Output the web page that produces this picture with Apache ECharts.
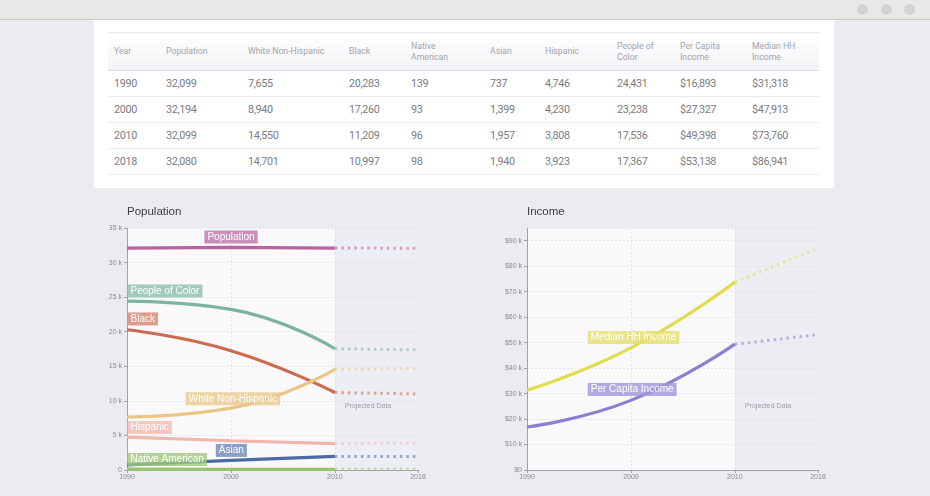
<!DOCTYPE html>
<html>
<head>
<meta charset="utf-8">
<script src="https://cdn.jsdelivr.net/npm/echarts/dist/echarts.min.js"></script>
<style>
  html, body { margin: 0; padding: 0; }
  body { width: 930px; height: 496px; background: #ebecf0; position: relative; overflow: hidden; font-family: Roboto, "Liberation Sans", sans-serif; }
  #bar { position: absolute; left: 0; top: 0; width: 930px; height: 19px; background: #e9e9e7; border-bottom: 1px solid #c9c9c6; }
  .dot { position: absolute; top: 4px; width: 11px; height: 11px; border-radius: 50%; background: #d4d4d3; }
  #panel { position: absolute; left: 94px; top: 20px; width: 740px; height: 168px; background: #fff; }
  table { position: absolute; left: 14px; top: 12px; width: 711px; border-collapse: collapse; table-layout: fixed; }
  th { height: 37px; text-align: left; vertical-align: middle; font-weight: normal; font-size: 8.7px; line-height: 11px; color: #a3a4ab; padding: 0 0 0 6px;
       background: linear-gradient(#ffffff, #f1f2f5); border-top: 1px solid #e9eaed; border-bottom: 1px solid #dcdde2; }
  td { height: 25px; font-size: 10.8px; color: #7b7c82; padding: 0 0 0 6px; border-bottom: 1px solid #ececef; letter-spacing: -0.35px; }
  #chart { position: absolute; left: 0; top: 190px; width: 930px; height: 306px; }
</style>
</head>
<body>
<div id="bar"><div class="dot" style="left:857px"></div><div class="dot" style="left:881px"></div><div class="dot" style="left:904px"></div></div>
<div id="panel"><table id="tbl"></table></div>
<div id="chart"></div>
<script>
// ---- data ----
const years = [1990, 2000, 2010, 2018];
const tableHeaders = ['Year', 'Population', 'White Non-Hispanic', 'Black', 'Native<br>American', 'Asian', 'Hispanic', 'People of<br>Color', 'Per Capita<br>Income', 'Median HH<br>Income'];
const population = [32099, 32194, 32099, 32080];
const whiteNonHispanic = [7655, 8940, 14550, 14701];
const black = [20283, 17260, 11209, 10997];
const nativeAmerican = [139, 93, 96, 98];
const asian = [737, 1399, 1957, 1940];
const hispanic = [4746, 4230, 3808, 3923];
const peopleOfColor = [24431, 23238, 17536, 17367];
const perCapitaIncome = [16893, 27327, 49398, 53138];
const medianHHIncome = [31318, 47913, 73760, 86941];
const popTicks = [0, 5000, 10000, 15000, 20000, 25000, 30000, 35000];
const incomeTicks = [0, 10000, 20000, 30000, 40000, 50000, 60000, 70000, 80000, 90000];
const projectedFrom = 2010;

// ---- table ----
const colWidths = [52, 82, 101, 62, 79, 55, 72, 63, 72, 73];
const fmt = v => v.toLocaleString('en-US');
let html = '<colgroup>' + colWidths.map(w => '<col style="width:' + w + 'px">').join('') + '</colgroup>';
html += '<tr>' + tableHeaders.map(h => '<th>' + h + '</th>').join('') + '</tr>';
years.forEach((y, i) => {
  const cells = [y, fmt(population[i]), fmt(whiteNonHispanic[i]), fmt(black[i]), fmt(nativeAmerican[i]), fmt(asian[i]),
    fmt(hispanic[i]), fmt(peopleOfColor[i]), '$' + fmt(perCapitaIncome[i]), '$' + fmt(medianHHIncome[i])];
  html += '<tr>' + cells.map(c => '<td>' + c + '</td>').join('') + '</tr>';
});
document.getElementById('tbl').innerHTML = html;

// ---- chart ----
const chart = echarts.init(document.getElementById('chart'), null, { renderer: 'canvas' });

function solid(vals) { return years.filter(y => y <= projectedFrom).map((y, i) => [y, vals[i]]); }
function proj(vals) { return years.map((y, i) => [y, vals[i]]).filter(d => d[0] >= projectedFrom); }

const popSeries = [
  { name: 'Population', vals: population, color: '#b8639e', lbg: 'rgba(190,118,170,0.8)', at: [1997.4, 33700] },
  { name: 'People of Color', vals: peopleOfColor, color: '#7db2a2', lbg: 'rgba(140,190,175,0.8)', at: [1990, 25900] },
  { name: 'Black', vals: black, color: '#cf6a4f', lbg: 'rgba(218,140,118,0.85)', at: [1990, 21850] },
  { name: 'White Non-Hispanic', vals: whiteNonHispanic, color: '#e9c684', lbg: 'rgba(234,200,140,0.8)', at: [1995.6, 10300] },
  { name: 'Hispanic', vals: hispanic, color: '#f1b5a9', lbg: 'rgba(242,190,180,0.85)', at: [1990, 6150] },
  { name: 'Asian', vals: asian, color: '#4a6ba5', lbg: 'rgba(120,145,190,0.85)', at: [1998.5, 2830] },
  { name: 'Native American', vals: nativeAmerican, color: '#98c46f', lbg: 'rgba(160,200,125,0.8)', at: [1990, 1520] }
];
const incSeries = [
  { name: 'Median HH Income', vals: medianHHIncome, color: '#e2dc4c', lbg: 'rgba(228,222,110,0.8)', at: [1995.8, 52000] },
  { name: 'Per Capita Income', vals: perCapitaIncome, color: '#8a7fd4', lbg: 'rgba(160,150,220,0.8)', at: [1995.8, 31600] }
];

function axisX(gi) {
  return {
    type: 'value', gridIndex: gi, min: 1990, max: 2018, interval: 10,
    axisLine: { show: true, lineStyle: { color: '#a0a3ad', width: 1 } },
    axisTick: { show: true, length: 3, lineStyle: { color: '#a0a3ad' } },
    axisLabel: { fontSize: 7, color: '#8a8c94', margin: 4, formatter: v => String(v), fontFamily: 'Liberation Sans' },
    splitLine: { show: true, lineStyle: { color: '#e3e4e8', type: [2, 2] } }
  };
}
function axisY(gi, max, interval, fmtFn) {
  return {
    type: 'value', gridIndex: gi, min: 0, max: max, interval: interval,
    axisLine: { show: true, lineStyle: { color: '#a0a3ad', width: 1 } },
    axisTick: { show: true, length: 3, lineStyle: { color: '#a0a3ad' } },
    axisLabel: { fontSize: 7, color: '#8a8c94', margin: 5, formatter: fmtFn, showMaxLabel: max % interval === 0, fontFamily: 'Liberation Sans' },
    splitLine: { show: true, lineStyle: { color: '#e3e4e8', type: [2, 2] } }
  };
}

const series = [];
function addSeries(list, gi, projLabelAt) {
  series.push({
    type: 'line', xAxisIndex: gi, yAxisIndex: gi, data: [], silent: true,
    markArea: { silent: true, itemStyle: { color: 'rgba(222,225,234,0.45)' }, data: [[{ xAxis: projectedFrom }, { xAxis: 2018 }]] },
    markPoint: {
      symbol: 'rect', symbolSize: 1, itemStyle: { color: 'rgba(0,0,0,0)' },
      label: { show: true, formatter: '{b}', position: 'inside', color: '#9a9ca4', fontSize: 7, fontFamily: 'Liberation Sans' },
      data: [{ name: 'Projected Data', coord: projLabelAt }]
    }
  });
  list.forEach(s => {
    series.push({
      name: s.name, type: 'line', xAxisIndex: gi, yAxisIndex: gi, data: solid(s.vals), smooth: 0.5,
      showSymbol: false, symbol: 'none', lineStyle: { color: s.color, width: 3.2 }, z: 3
    });
    series.push({
      name: s.name + ' (projected)', type: 'line', xAxisIndex: gi, yAxisIndex: gi, data: proj(s.vals),
      showSymbol: false, symbol: 'none', lineStyle: { color: s.color, width: 3, type: [2.5, 4], opacity: 0.55 }, z: 2
    });
  });
  list.forEach(s => {
    series.push({
      type: 'line', xAxisIndex: gi, yAxisIndex: gi, data: [], z: 5,
      markPoint: {
        symbol: 'rect', symbolSize: 1, itemStyle: { color: 'rgba(0,0,0,0)' }, z: 5,
        label: { show: true, formatter: '{b}', position: 'right', distance: 0, color: '#fff', fontSize: 10,
          fontFamily: 'Liberation Sans', backgroundColor: s.lbg, padding: [2, 3, 1, 3] },
        data: [{ name: s.name, coord: s.at }]
      }
    });
  });
}
addSeries(popSeries, 0, [2013.2, 9300]);
addSeries(incSeries, 1, [2013.2, 25100]);

chart.setOption({
  animation: false,
  title: [
    { text: 'Population', left: 127, top: 16, padding: 0, textStyle: { fontSize: 11.5, fontWeight: 'normal', color: '#3a3b40', fontFamily: 'Liberation Sans' } },
    { text: 'Income', left: 527, top: 16, padding: 0, textStyle: { fontSize: 11.5, fontWeight: 'normal', color: '#3a3b40', fontFamily: 'Liberation Sans' } }
  ],
  grid: [
    { left: 127, right: 512, top: 38, bottom: 26, show: true, backgroundColor: '#f9f9fb', borderWidth: 0 },
    { left: 527, right: 112, top: 38, bottom: 26, show: true, backgroundColor: '#f9f9fb', borderWidth: 0 }
  ],
  xAxis: [axisX(0), axisX(1)],
  yAxis: [
    axisY(0, popTicks[popTicks.length - 1], popTicks[1] - popTicks[0], v => v === 0 ? '0' : (v / 1000) + ' k'),
    axisY(1, 95000, incomeTicks[1] - incomeTicks[0], v => v === 0 ? '$0' : '$' + (v / 1000) + ' k')
  ],
  series: series
});
</script>
</body>
</html>
